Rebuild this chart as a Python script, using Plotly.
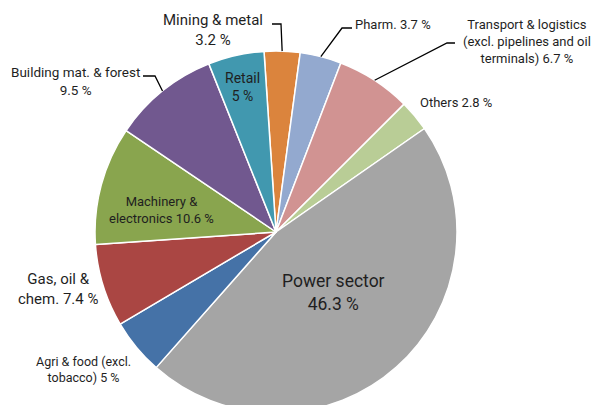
import math
import plotly.graph_objects as go

# ---- data ----
sectors = ["Mining & metal", "Pharm.", "Transport & logistics (excl. pipelines and oil terminals)",
           "Others", "Power sector", "Agri & food (excl. tobacco)", "Gas, oil & chem.",
           "Machinery & electronics", "Building mat. & forest", "Retail"]
shares = [3.2, 3.7, 6.7, 2.8, 46.3, 5.0, 7.4, 10.6, 9.5, 5.0]
colors = ["#DB843D", "#93A9CF", "#D19392", "#B9CD96", "#A5A5A5",
          "#4572A7", "#AA4643", "#89A54E", "#71588F", "#4198AF"]

label_texts = ["Mining & metal<br>3.2 %", "Pharm. 3.7 %",
               "Transport & logistics<br>(excl. pipelines and oil<br>terminals) 6.7 %",
               "Others 2.8 %", "Power sector<br>46.3 %", "Agri & food (excl.<br>tobacco) 5 %",
               "Gas, oil &<br>chem. 7.4 %", "Machinery &<br>electronics 10.6 %",
               "Building mat. & forest<br>9.5 %", "Retail<br>5 %"]

# ---- layout geometry (pixels) ----
W, H = 596, 413          # figure slightly taller than the 405 window; pie is cut at the bottom
cx, cy, R = 276, 232, 181
rotation = -3.8

# label placement: (x, y, font size, xanchor)
label_pos = [(213, 30.5, 15, "center"), (353, 24, 13, "left"), (527, 41, 13, "center"),
             (456, 103, 13, "center"), (333, 292, 17.5, "center"), (83, 369.5, 12.5, "center"),
             (58, 289, 15, "center"), (161, 210, 13, "center"), (75, 81, 13.5, "center"),
             (242, 87, 14, "center")]
# leader line elbows (pixels) for outside labels: index -> list of points
leaders = {0: [(272, 24), (281, 24)], 1: [(352, 28), (342, 28)],
           2: [(455, 43), (447, 43)], 8: [(143, 76), (155, 76)]}

FONT = "Liberation Sans Narrow, Arial Narrow, Roboto, sans-serif"
TXT = "#1f1f1f"

def px(x):
    return x / W

def py(y):
    return 1 - y / H

fig = go.Figure(go.Pie(
    labels=sectors, values=shares, sort=False, direction="clockwise",
    rotation=rotation, textinfo="none", hoverinfo="label+percent",
    marker=dict(colors=colors, line=dict(color="white", width=1.5)),
    domain=dict(x=[(cx - R) / W, (cx + R) / W], y=[(H - cy - R) / H, (H - cy + R) / H]),
    showlegend=False,
))

total = sum(shares)
cum = 0.0
shapes = []
annotations = []
for i, v in enumerate(shares):
    mid = rotation + (cum + v / 2) / total * 360
    cum += v
    if i in leaders:
        a = math.radians(mid)
        tip = (cx + R * math.sin(a), cy - R * math.cos(a))
        pts = leaders[i] + [tip]
        path = "M " + " L ".join(f"{px(x):.5f},{py(y):.5f}" for x, y in pts)
        shapes.append(dict(type="path", xref="paper", yref="paper", path=path,
                           line=dict(color="black", width=1.3)))
    x, y, s, anc = label_pos[i]
    annotations.append(dict(x=px(x), y=py(y), xref="paper", yref="paper", text=label_texts[i],
                            showarrow=False, xanchor=anc, yanchor="middle", align="center",
                            font=dict(family=FONT, size=s, color=TXT)))

fig.update_layout(width=W, height=H, margin=dict(l=0, r=0, t=0, b=0),
                  paper_bgcolor="white", plot_bgcolor="white",
                  shapes=shapes, annotations=annotations)
fig.write_html("out.html",
               post_script="document.documentElement.style.overflow='hidden';"
                           "document.body.style.overflow='hidden';")
